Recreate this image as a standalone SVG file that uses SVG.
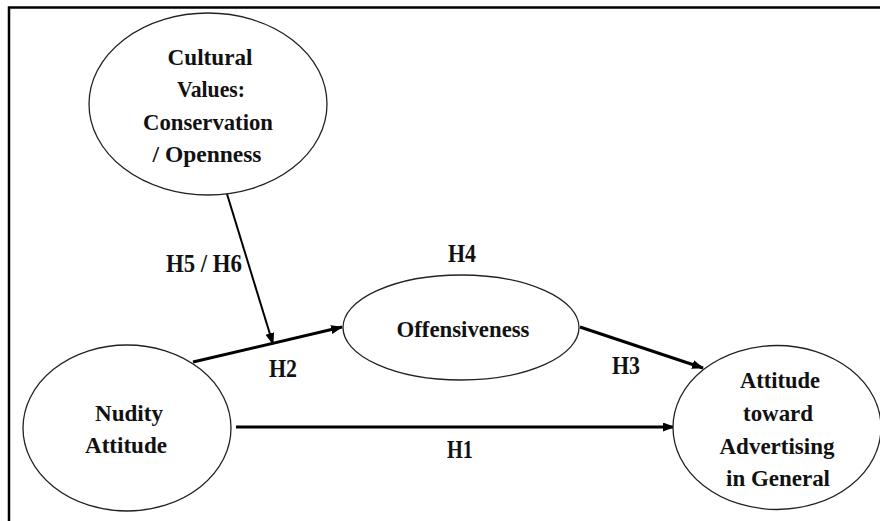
<svg xmlns="http://www.w3.org/2000/svg" width="880" height="521" viewBox="0 0 880 521">
<style>
.node{fill:#fff;stroke:#222;stroke-width:1.3}
.t{font-family:"Liberation Serif","Times New Roman","DejaVu Serif",serif;font-weight:bold;font-size:24px;fill:#111;text-anchor:middle}
.lbl{font-family:"Liberation Serif","Times New Roman","DejaVu Serif",serif;font-weight:bold;font-size:25px;fill:#111;text-anchor:middle}
.c{fill:none;stroke:#000}
</style>
<defs>
<marker id="ah" markerUnits="userSpaceOnUse" markerWidth="12" markerHeight="10" refX="11" refY="4.5" orient="auto">
<path d="M0,0 L12,4.5 L0,9 z" fill="#000"/>
</marker>
</defs>
<rect width="880" height="521" fill="#fff"/>
<path d="M9,521 V7.5 H880" fill="none" stroke="#000" stroke-width="2.5"/>
<g id="connectors">
<line class="c" x1="236" y1="427" x2="674" y2="427" stroke-width="3" marker-end="url(#ah)"/>
<line class="c" x1="193" y1="362" x2="342" y2="327" stroke-width="3" marker-end="url(#ah)"/>
<line class="c" x1="580" y1="327" x2="703" y2="368" stroke-width="3" marker-end="url(#ah)"/>
<line class="c" x1="227" y1="194" x2="273" y2="344" stroke-width="2" marker-end="url(#ah)"/>
<text class="lbl" x="204" y="272" textLength="76" lengthAdjust="spacingAndGlyphs">H5 / H6</text>
<text class="lbl" x="283" y="377" textLength="28" lengthAdjust="spacingAndGlyphs">H2</text>
<text class="lbl" x="462" y="262" textLength="28" lengthAdjust="spacingAndGlyphs">H4</text>
<text class="lbl" x="626" y="374" textLength="28" lengthAdjust="spacingAndGlyphs">H3</text>
<text class="lbl" x="460" y="458" textLength="26" lengthAdjust="spacingAndGlyphs">H1</text>
</g>
<g id="cultural">
<ellipse class="node" cx="208" cy="104" rx="119" ry="91"/>
<text class="t" x="210" y="65" textLength="85" lengthAdjust="spacingAndGlyphs">Cultural</text>
<text class="t" x="211" y="97" textLength="68" lengthAdjust="spacingAndGlyphs">Values:</text>
<text class="t" x="208" y="130" textLength="130" lengthAdjust="spacingAndGlyphs">Conservation</text>
<text class="t" x="207" y="162" textLength="109" lengthAdjust="spacingAndGlyphs">/ Openness</text>
</g>
<g id="nudity">
<ellipse class="node" cx="127" cy="428" rx="104" ry="83"/>
<text class="t" x="129" y="421" textLength="68" lengthAdjust="spacingAndGlyphs">Nudity</text>
<text class="t" x="126" y="453" textLength="82" lengthAdjust="spacingAndGlyphs">Attitude</text>
</g>
<g id="offensiveness">
<ellipse class="node" cx="461" cy="327.5" rx="118" ry="52.5"/>
<text class="t" x="463" y="337" textLength="133" lengthAdjust="spacingAndGlyphs">Offensiveness</text>
</g>
<g id="attitude">
<ellipse class="node" cx="777" cy="427.5" rx="104" ry="82"/>
<text class="t" x="780" y="388" textLength="80" lengthAdjust="spacingAndGlyphs">Attitude</text>
<text class="t" x="778" y="421" textLength="70" lengthAdjust="spacingAndGlyphs">toward</text>
<text class="t" x="777" y="454" textLength="115" lengthAdjust="spacingAndGlyphs">Advertising</text>
<text class="t" x="778" y="486" textLength="104" lengthAdjust="spacingAndGlyphs">in General</text>
</g>
</svg>
